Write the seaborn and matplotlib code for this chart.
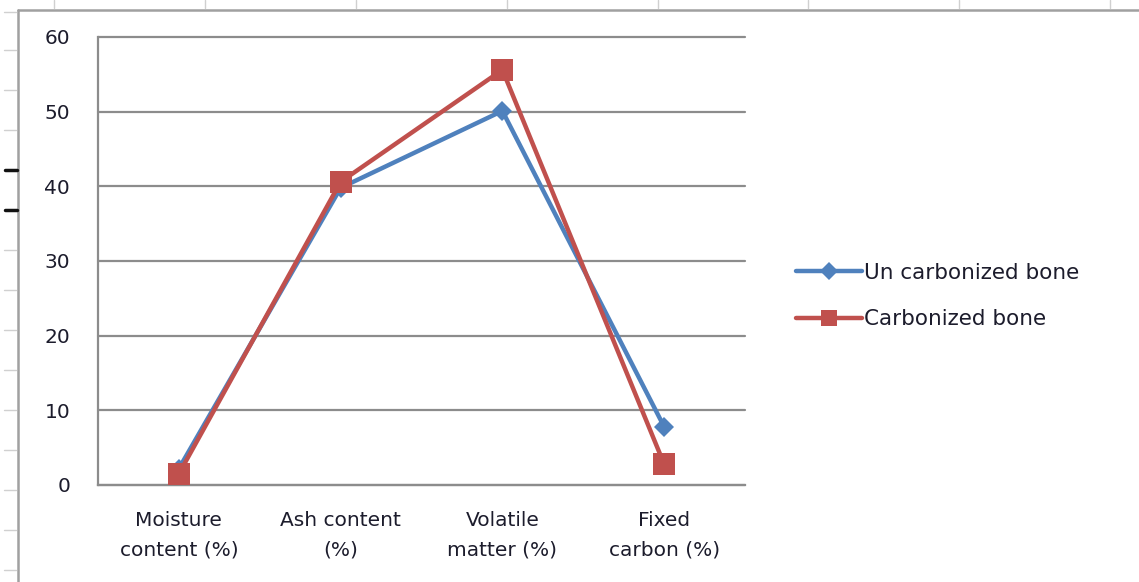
import matplotlib
matplotlib.use("Agg")
import matplotlib.pyplot as plt
from matplotlib.lines import Line2D
import seaborn as sns
import pandas as pd

categories = ["Moisture\ncontent (%)", "Ash content\n(%)", "Volatile\nmatter (%)", "Fixed\ncarbon (%)"]
uncarbonized = [2.2, 39.8, 50.1, 7.8]
carbonized = [1.5, 40.6, 55.6, 2.8]
series_names = ["Un carbonized bone", "Carbonized bone"]
y_ticks = [0, 10, 20, 30, 40, 50, 60]

df = pd.DataFrame({
    "pos": list(range(len(categories))) * 2,
    "value": uncarbonized + carbonized,
    "series": [series_names[0]] * len(categories) + [series_names[1]] * len(categories),
})

sns.set_theme(style="white")
plt.rcParams["font.family"] = ["DejaVu Sans"]

W, H, DPI = 1139, 582, 100
fig = plt.figure(figsize=(W / DPI, H / DPI), dpi=DPI)
fig.patch.set_facecolor("white")

# plot area in pixel coordinates
x0, x1, yb, yt = 98, 745, 485, 37
ax = fig.add_axes([x0 / W, 1 - yb / H, (x1 - x0) / W, (yb - yt) / H])

grid_c = "#8c8c8c"
text_c = "#1c1c2c"
blue = "#4F81BD"
red = "#C0504D"
fs = 14.5

sns.lineplot(data=df[df.series == series_names[0]], x="pos", y="value", ax=ax,
             color=blue, lw=3.2, marker="D", markersize=10, markeredgewidth=0,
             label=series_names[0], zorder=3)
sns.lineplot(data=df[df.series == series_names[1]], x="pos", y="value", ax=ax,
             color=red, lw=3.2, marker="s", markersize=15.5, markeredgewidth=0,
             label=series_names[1], zorder=4)

ax.set_xlim(-0.5, len(categories) - 0.5)
ax.set_ylim(0, 60)
ax.set_yticks(y_ticks)
ax.set_yticklabels([str(v) for v in y_ticks], fontsize=fs, color=text_c)
ax.yaxis.grid(True, color=grid_c, lw=1.6)
for gl in ax.get_ygridlines():
    gl.set_clip_on(False)
ax.set_axisbelow(True)

# category labels centred between boundary ticks
ax.set_xticks([i - 0.5 for i in range(len(categories) + 1)])
ax.set_xticklabels([])
ax.set_xticks(range(len(categories)), minor=True)
ax.set_xticklabels(categories, minor=True, fontsize=fs, color=text_c, linespacing=1.7)
ax.tick_params(axis="x", which="minor", length=0, pad=19)
ax.tick_params(axis="x", which="major", length=7, width=1.6, color=grid_c, direction="out")
ax.tick_params(axis="y", length=8, width=1.6, color=grid_c, direction="out", pad=12)
ax.set_xlabel("")
ax.set_ylabel("")

for side in ["top", "right"]:
    ax.spines[side].set_visible(False)
for side in ["left", "bottom"]:
    ax.spines[side].set_color(grid_c)
    ax.spines[side].set_linewidth(1.6)

leg = ax.legend(loc="center left", bbox_to_anchor=((787 - x0) / (x1 - x0), 1 - (296 - yt) / (yb - yt)),
                frameon=False, fontsize=15.5, handlelength=3.1, handletextpad=0.1,
                labelspacing=1.25, borderaxespad=0)
for t in leg.get_texts():
    t.set_color(text_c)
for h, ms in zip(leg.legend_handles, [9, 12]):
    h.set_markersize(ms)

# surrounding worksheet frame and cell separators
def fline(xs, ys, color="#b4b4b4", lw=1.2):
    fig.add_artist(Line2D([x / W for x in xs], [1 - y / H for y in ys],
                          color=color, lw=lw, transform=fig.transFigure))

fline([18, 18], [10, H], color="#a0a0a0", lw=1.8)
fline([18, W], [10, 10], color="#a0a0a0", lw=1.8)
for cx in [54, 205, 356, 507, 658, 808, 959, 1110]:
    fline([cx, cx], [0, 8], color="#d0d0d0", lw=1.0)
for ry in [12, 50, 90, 130, 250, 290, 330, 370, 410, 450, 490, 530, 570]:
    fline([4, 16], [ry, ry], color="#d0d0d0", lw=1.0)
for ry in [170, 210]:
    fline([5, 17], [ry, ry], color="#111111", lw=2.5)

fig.savefig("out.png", dpi=DPI, facecolor="white")
